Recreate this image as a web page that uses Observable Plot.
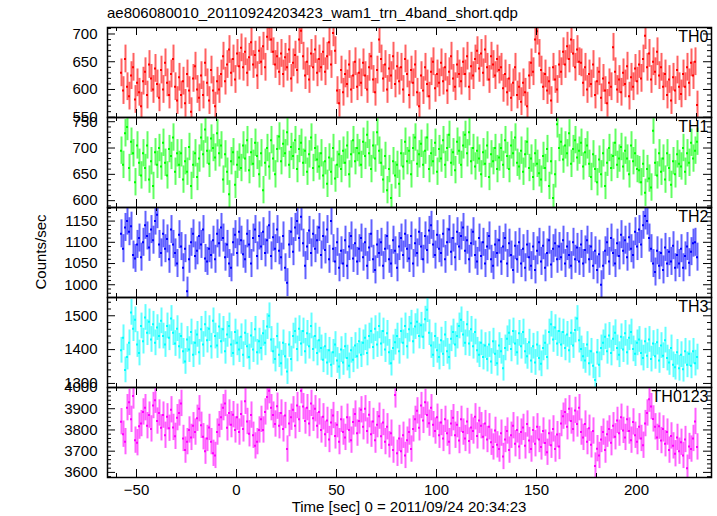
<!DOCTYPE html>
<html>
<head>
<meta charset="utf-8">
<script src="https://cdn.jsdelivr.net/npm/d3@7"></script>
<script src="https://cdn.jsdelivr.net/npm/@observablehq/plot@0.6"></script>
<style>
  html, body { margin: 0; padding: 0; background: #fff; }
  #wrap { position: relative; width: 717px; height: 516px; overflow: hidden; font-family: "Liberation Sans", Arial, Helvetica, sans-serif; }
  .panel { position: absolute; left: 0; }
  .txt { position: absolute; font-size: 15px; color: #000; white-space: nowrap; }
</style>
</head>
<body>
<div id="wrap"></div>
<script>
// ---------- data ----------
const title = "ae806080010_20110924203423_wam1_trn_4band_short.qdp";
const xLabel = "Time [sec] 0 = 2011/09/24 20:34:23";
const yLabel = "Counts/sec";
const seriesNames = ["TH0", "TH1", "TH2", "TH3", "TH0123"];
const timeStart = -57.5;   // first bin centre (s)
const binWidth = 1;        // bin width (s)

const th0 = [
630,598,655,605,588,625,640,582,612,595,
570,615,632,590,645,620,600,638,610,585,
635,600,648,612,590,628,655,605,580,622,
590,615,575,628,598,560,620,642,600,585,
625,590,648,612,580,635,598,570,615,600,
628,660,615,645,672,630,655,618,665,642,
675,640,668,630,658,685,645,662,625,670,
650,678,640,695,712,690,668,645,660,632,
665,628,658,640,672,620,648,662,635,690,
706,660,625,650,618,665,640,672,630,655,
640,668,632,660,685,645,702,670,598,575,
635,595,628,610,645,600,625,650,605,630,
612,648,625,600,640,660,618,595,635,690,
655,620,645,600,638,625,660,610,642,615,
640,600,655,628,590,635,612,645,595,570,
625,598,640,610,588,632,650,602,628,612,
648,615,640,598,632,660,620,605,645,628,
615,650,628,660,605,642,625,655,670,638,
665,630,672,640,618,660,645,625,655,635,
640,602,628,595,620,585,612,640,590,605,
578,612,595,570,625,648,632,690,705,665,
635,605,628,598,615,580,640,618,600,645,
632,668,645,678,655,690,665,640,672,650,
648,612,640,600,628,610,645,590,615,632,
585,620,598,575,612,605,676,632,600,618,
595,630,610,642,588,622,605,638,615,645,
620,655,697,640,665,618,650,632,668,625,
640,605,628,590,618,580,622,598,635,605,
592,628,605,640,612,648,625,650,572];

const th1 = [
695,668,728,740,662,712,690,635,705,672,
648,690,662,705,640,675,628,692,668,700,
665,710,672,648,698,685,720,655,690,668,
690,640,675,655,702,628,668,690,645,680,
720,688,735,695,670,718,700,682,728,690,
705,640,688,655,612,675,692,630,668,682,
662,705,680,715,658,692,670,710,685,650,
690,620,672,700,665,715,680,650,698,722,
675,708,690,730,668,702,685,715,660,698,
710,672,695,655,688,720,662,700,678,665,
690,648,675,632,682,655,700,642,668,688,
660,695,672,705,650,688,715,675,700,690,
668,712,685,725,690,660,705,680,730,695,
672,640,685,620,660,605,675,648,668,632,
690,665,712,675,695,650,700,720,670,688,
708,668,695,720,660,690,675,710,655,698,
680,715,668,700,725,672,692,658,712,695,
668,705,725,690,730,675,700,665,695,680,
650,692,670,705,645,688,675,700,660,682,
700,668,715,685,660,705,690,720,672,665,
695,655,688,712,662,680,645,690,670,652,
640,685,662,698,628,675,605,650,745,700,
712,678,705,690,728,670,698,715,682,695,
710,665,692,705,670,645,688,660,635,678,
650,690,628,672,700,662,685,710,668,680,
702,665,695,680,650,705,675,690,660,658,
635,670,615,660,642,625,733,672,648,690,
655,680,640,690,662,630,675,650,688,670,
665,700,655,690,672,710,680,695,712];

const th2 = [
1120,1085,1135,1150,1125,1138,1070,1062,1095,1110,
1065,1100,1140,1115,1088,1130,1105,1150,1165,1095,
1075,1120,1085,1108,1060,1130,1095,1075,1050,1118,
1090,1040,1085,985,1060,1100,1120,1068,1080,1115,
1095,1130,1062,1055,1085,1070,1105,1060,1120,1098,
1135,1110,1065,1095,1050,1040,1100,1118,1075,1125,
1105,1072,1060,1120,1095,1050,1110,1130,1068,1115,
1090,1125,1075,1105,1140,1068,1112,1085,1130,1080,
1065,1115,1040,1005,1095,1125,1078,1135,1150,1110,
1160,1098,1045,1090,1128,1075,1120,1085,1105,1135,
1070,1115,1082,1130,1060,1150,1085,1055,1100,1040,
1080,1050,1105,1045,1090,1115,1062,1098,1055,1085,
1110,1065,1100,1045,1088,1120,1060,1035,1095,1075,
1100,1045,1085,1115,1060,1050,1105,1080,1040,1090,
1110,1070,1120,1085,1062,1115,1050,1098,1075,1125,
1090,1060,1115,1082,1128,1140,1095,1070,1118,1085,
1075,1120,1060,1100,1130,1078,1110,1065,1125,1090,
1115,1135,1080,1105,1060,1098,1125,1070,1055,1110,
1068,1100,1050,1090,1115,1060,1045,1095,1075,1105,
1055,1090,1110,1050,1098,1070,1035,1092,1060,1100,
1050,1085,1040,1095,1065,1045,1090,1035,1080,1100,
1055,1092,1040,1075,1105,1048,1085,1098,1060,1090,
1065,1105,1050,1090,1070,1045,1100,1060,1088,1055,
1095,1050,1082,1105,1060,1090,1045,1080,1035,1072,
1000,1045,1080,1100,1055,1110,1075,1050,1098,1068,
1118,1080,1105,1065,1112,1085,1070,1125,1090,1130,
1095,1140,1162,1150,1110,1085,1050,1030,1080,1045,
1075,1035,1088,1050,1078,1055,1092,1040,1070,1050,
1085,1040,1068,1090,1052,1078,1098,1100,1065];

const th3 = [
1398,1435,1340,1378,1420,1510,1462,1488,1415,1390,
1470,1425,1495,1450,1482,1430,1475,1420,1465,1440,
1485,1440,1415,1470,1435,1492,1450,1418,1462,1410,
1440,1395,1365,1430,1400,1452,1385,1420,1445,1392,
1460,1415,1475,1428,1462,1410,1485,1440,1412,1468,
1425,1460,1395,1445,1470,1415,1390,1452,1420,1400,
1438,1385,1450,1410,1378,1442,1400,1460,1392,1425,
1405,1448,1420,1468,1500,1430,1395,1372,1440,1385,
1360,1420,1380,1335,1415,1372,1440,1455,1402,1462,
1418,1455,1395,1448,1410,1470,1402,1440,1390,1428,
1405,1370,1410,1362,1398,1355,1392,1415,1368,1350,
1400,1362,1410,1375,1352,1398,1370,1412,1380,1425,
1385,1420,1435,1390,1440,1455,1408,1462,1415,1470,
1418,1455,1400,1448,1392,1360,1405,1422,1440,1395,
1455,1420,1470,1410,1460,1478,1425,1468,1482,1440,
1472,1438,1490,1518,1450,1412,1385,1440,1398,1378,
1428,1388,1445,1395,1378,1432,1452,1415,1440,1470,
1488,1445,1420,1475,1418,1460,1410,1452,1398,1385,
1420,1378,1412,1372,1415,1365,1425,1388,1360,1412,
1395,1345,1405,1432,1450,1402,1455,1418,1392,1448,
1410,1452,1395,1380,1422,1368,1410,1362,1415,1375,
1358,1405,1420,1378,1452,1475,1430,1465,1418,1455,
1415,1452,1405,1445,1398,1450,1412,1458,1492,1428,
1402,1380,1368,1415,1360,1395,1352,1310,1392,1355,
1405,1420,1438,1395,1442,1390,1432,1450,1405,1385,
1438,1400,1448,1392,1435,1452,1402,1388,1420,1430,
1390,1375,1425,1382,1430,1372,1418,1380,1422,1368,
1412,1382,1428,1375,1362,1405,1355,1348,1392,1345,
1385,1342,1395,1355,1388,1352,1395,1360,1378];

const th0123 = [
3839,3780,3745,3905,3930,3850,3960,3752,3740,3818,
3830,3885,3905,3820,3870,3805,3915,3940,3842,3880,
3810,3870,3775,3862,3808,3895,3812,3770,3858,3880,
3925,3760,3705,3745,3800,3765,3820,3790,3855,3900,
3822,3768,3700,3760,3812,3745,3690,3680,3790,3825,
3860,3905,3925,3810,3880,3825,3872,3800,3860,3790,
3875,3805,3935,3840,3782,3870,3775,3725,3745,3800,
3850,3800,3885,3955,3985,3905,3870,3828,3912,3820,
3880,3805,3868,3710,3830,3860,3895,3820,3915,3850,
3985,3910,3842,3905,3830,3925,3855,3900,3820,3885,
3800,3862,3780,3845,3755,3835,3868,3772,3825,3745,
3850,3790,3765,3860,3800,3752,3838,3875,3785,3842,
3895,3815,3900,3795,3872,3780,3840,3752,3825,3865,
3770,3835,3745,3815,3730,3785,3705,3965,3690,3760,
3700,3775,3680,3752,3790,3710,3805,3850,3890,3810,
3915,3845,3930,3870,3832,3905,3825,3795,3860,3775,
3835,3760,3850,3785,3745,3830,3858,3775,3825,3750,
3850,3790,3760,3840,3748,3812,3795,3862,3772,3845,
3820,3768,3830,3755,3815,3742,3720,3798,3730,3710,
3785,3675,3755,3795,3705,3775,3820,3735,3800,3722,
3790,3812,3725,3828,3750,3710,3800,3735,3815,3755,
3720,3795,3738,3695,3785,3728,3805,3710,3778,3722,
3830,3865,3885,3815,3900,3842,3805,3892,3828,3905,
3790,3765,3828,3745,3808,3730,3795,3630,3712,3680,
3755,3790,3705,3780,3805,3740,3820,3768,3845,3785,
3860,3798,3765,3850,3795,3752,3838,3775,3745,3815,
3760,3728,3830,3880,3945,3910,3852,3815,3765,3818,
3750,3805,3735,3790,3705,3772,3725,3688,3765,3700,
3742,3680,3755,3620,3722,3710,3760,3840,3720];

const seriesValues = [th0, th1, th2, th3, th0123];
const seriesErrors = [25, 26, 33, 38, 62];           // 1-sigma count-rate errors
const seriesColors = ["#ff0000", "#00ff00", "#0000ff", "#00ffff", "#ff00ff"];
const yDomains = [[549.5, 711.7], [587, 758], [970, 1182], [1288, 1554], [3576, 4000]];
const yTickLabels = [[550, 600, 650, 700], [600, 650, 700, 750], [1000, 1050, 1100, 1150], [1300, 1400, 1500], [3600, 3700, 3800, 3900, 4000]];
const yMinorStep = [10, 10, 10, 20, 20];
const xDomain = [-64.5, 237.5];
const xTickLabels = [-50, 0, 50, 100, 150, 200];
const xMinorStep = 10;

// ---------- layout ----------
const W = 717, ML = 107, MR = 6;
const panelH = 90, frameTop = 27;
const plotW = W - ML - MR;
const font = '"Liberation Sans", Arial, Helvetica, sans-serif';
const wrap = document.getElementById("wrap");
const fmt = d3.format("d");

const xMinor = d3.range(-60, 240, xMinorStep).filter(v => !xTickLabels.includes(v));
const majLen = 8, minLen = 4;

seriesValues.forEach((vals, k) => {
  const err = seriesErrors[k];
  const col = seriesColors[k];
  const rows = vals.map((v, i) => ({t: timeStart + i * binWidth, v}));
  const [y0, y1] = yDomains[k];
  const yMinor = d3.range(Math.ceil(y0 / yMinorStep[k]) * yMinorStep[k], y1, yMinorStep[k])
    .filter(v => !yTickLabels[k].includes(v));
  const yMaj = yTickLabels[k].filter(v => v >= y0 && v <= y1);
  const isLast = k === seriesValues.length - 1;
  const mt = 12, mb = isLast ? 40 : 12;

  const marks = [
    Plot.ruleX(rows, {x: "t", y1: d => d.v - err, y2: d => d.v + err, stroke: col, strokeOpacity: 0.62, strokeWidth: 2, clip: true}),
    Plot.ruleY(rows, {y: "v", x1: d => d.t - binWidth / 2, x2: d => d.t + binWidth / 2, stroke: col, strokeWidth: 2, clip: true}),
    // inward ticks: left / right
    Plot.tickY(yMaj, {y: d => d, insetRight: plotW - majLen, stroke: "#000", strokeWidth: 1}),
    Plot.tickY(yMaj, {y: d => d, insetLeft: plotW - majLen, stroke: "#000", strokeWidth: 1}),
    Plot.tickY(yMinor, {y: d => d, insetRight: plotW - minLen, stroke: "#000", strokeWidth: 1}),
    Plot.tickY(yMinor, {y: d => d, insetLeft: plotW - minLen, stroke: "#000", strokeWidth: 1}),
    // inward ticks: top / bottom
    Plot.tickX(xTickLabels, {x: d => d, insetBottom: panelH - majLen, stroke: "#000", strokeWidth: 1}),
    Plot.tickX(xTickLabels, {x: d => d, insetTop: panelH - majLen, stroke: "#000", strokeWidth: 1}),
    Plot.tickX(xMinor, {x: d => d, insetBottom: panelH - minLen, stroke: "#000", strokeWidth: 1}),
    Plot.tickX(xMinor, {x: d => d, insetTop: panelH - minLen, stroke: "#000", strokeWidth: 1}),
    Plot.frame({stroke: "#000", strokeWidth: 1.5}),
    Plot.axisY(yTickLabels[k], {tickSize: 0, tickPadding: 10, tickFormat: fmt, label: null, fontSize: 15}),
    Plot.text([seriesNames[k]], {text: d => d, frameAnchor: "top-right", textAnchor: "end", lineAnchor: "top", dx: -3, dy: 3, fontSize: 16, fill: "#000"})
  ];
  if (isLast) marks.push(Plot.axisX(xTickLabels, {tickSize: 0, tickPadding: 7, tickFormat: fmt, label: null, fontSize: 15}));

  const svg = Plot.plot({
    width: W, height: panelH + mt + mb,
    marginLeft: ML, marginRight: MR, marginTop: mt, marginBottom: mb,
    x: {domain: xDomain, axis: isLast ? undefined : null},
    y: {domain: yDomains[k]},
    style: {background: "transparent", overflow: "visible", fontFamily: font, fontSize: "15px", color: "#000"},
    marks
  });
  const div = document.createElement("div");
  div.className = "panel";
  div.style.top = (frameTop + k * panelH - mt) + "px";
  div.appendChild(svg);
  wrap.appendChild(div);
});

function addText(str, css) {
  const d = document.createElement("div");
  d.className = "txt";
  d.textContent = str;
  Object.assign(d.style, css);
  wrap.appendChild(d);
  return d;
}
addText(title, {left: "107px", top: "4px", fontSize: "15px"});
addText(xLabel, {left: (ML + plotW / 2) + "px", top: "498px", transform: "translateX(-50%)", fontSize: "15px"});
addText(yLabel, {left: "40px", top: (frameTop + 2.5 * panelH) + "px", transform: "translate(-50%,-50%) rotate(-90deg)", fontSize: "15px"});
</script>
</body>
</html>
